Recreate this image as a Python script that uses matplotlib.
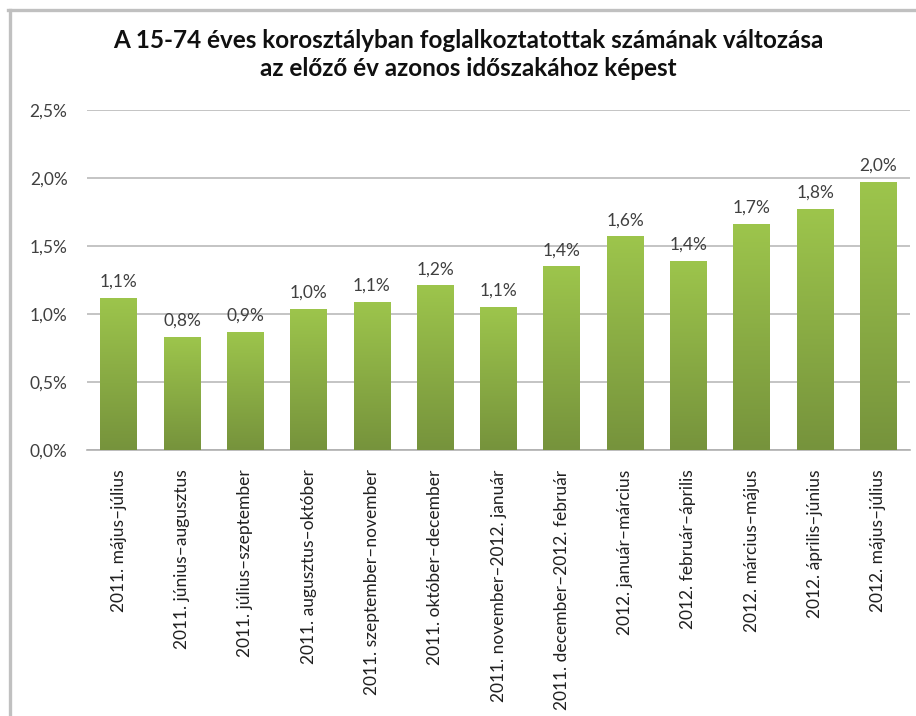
import numpy as np
import matplotlib.pyplot as plt
from matplotlib.lines import Line2D
from matplotlib.colors import LinearSegmentedColormap

plt.rcParams['font.family'] = ['Lato', 'DejaVu Sans']

periods = ['2011. május–július', '2011. június–augusztus', '2011. július–szeptember',
           '2011. augusztus–október', '2011. szeptember–november', '2011. október–december',
           '2011. november–2012. január', '2011. december–2012. február', '2012. január–március',
           '2012. február–április', '2012. március–május', '2012. április–június',
           '2012. május–július']
change = [1.12, 0.83, 0.87, 1.04, 1.09, 1.21, 1.05, 1.35, 1.57, 1.39, 1.66, 1.77, 1.97]
yticks = [0.0, 0.5, 1.0, 1.5, 2.0, 2.5]

txt = '#404040'
fig = plt.figure(figsize=(9.16, 7.16), dpi=100)
ax = fig.add_axes([0.095, 0.3715, 0.8985, 0.4749])

x = np.arange(len(periods))
bars = ax.bar(x, change, width=0.58, color='none', zorder=3)

# vertical gradient inside each bar
cmap = LinearSegmentedColormap.from_list('g', ['#76933c', '#9dc54c'])
grad = np.linspace(0, 1, 256).reshape(-1, 1)
for b in bars:
    x0, w, h = b.get_x(), b.get_width(), b.get_height()
    im = ax.imshow(grad, cmap=cmap, aspect='auto', origin='lower',
                   extent=[x0, x0 + w, 0, h], zorder=3)
    im.set_clip_path(b)
    ax.text(x0 + w / 2, h + 0.06, f'{h:.1f}%'.replace('.', ','), ha='center', va='bottom',
            fontsize=12.5, color=txt, zorder=4)

ax.set_xlim(-0.5, len(periods) - 0.5)
ax.set_ylim(0, 2.5)
ax.set_yticks(yticks)
ax.set_yticklabels([f'{v:.1f}%'.replace('.', ',') for v in yticks], fontsize=12.5, color=txt)
ax.set_xticks(x)
ax.set_xticklabels(periods, rotation=90, fontsize=12.5, color='#202020', va='top')
ax.tick_params(axis='both', length=0)
ax.tick_params(axis='x', pad=14)
ax.tick_params(axis='y', pad=14)
ax.grid(axis='y', color='#c4c4c4', linewidth=1.4, zorder=0)
for s in ['top', 'right', 'left']:
    ax.spines[s].set_visible(False)
ax.spines['bottom'].set_color('#b0b0b0')
ax.spines['bottom'].set_linewidth(1.2)

fig.text(0.511, 0.924, 'A 15-74 éves korosztályban foglalkoztatottak számának változása\naz előző év azonos időszakához képest',
         ha='center', va='center', fontsize=17.5, fontweight='bold', color='#101010', linespacing=1.25)

# outer frame (left and top edges visible)
fig.add_artist(Line2D([9.5 / 916, 9.5 / 916], [0, 1 - 10 / 716], transform=fig.transFigure,
                      color='#c0c0c0', linewidth=2.4))
fig.add_artist(Line2D([8.3 / 916, 1], [1 - 10 / 716, 1 - 10 / 716], transform=fig.transFigure,
                      color='#c0c0c0', linewidth=2.4))

fig.savefig('out.png', dpi=100)
